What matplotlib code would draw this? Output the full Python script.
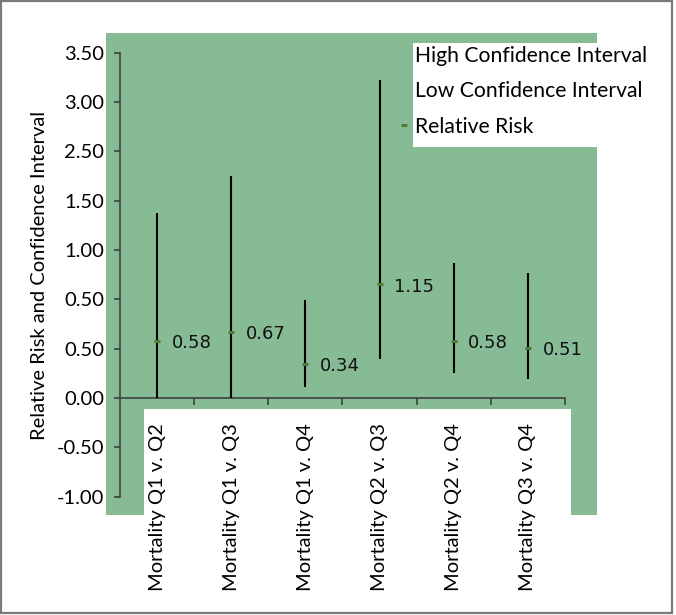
import matplotlib
matplotlib.use("Agg")
import matplotlib.pyplot as plt
from matplotlib.patches import Rectangle
from matplotlib.lines import Line2D

# ---- data ----
categories = ["Mortality Q1 v. Q2", "Mortality Q1 v. Q3", "Mortality Q1 v. Q4",
              "Mortality Q2 v. Q3", "Mortality Q2 v. Q4", "Mortality Q3 v. Q4"]
relative_risk = [0.58, 0.67, 0.34, 1.15, 0.58, 0.51]
high_ci = [1.87, 2.25, 0.99, 3.22, 1.37, 1.27]
low_ci = [0.00, 0.00, 0.11, 0.39, 0.25, 0.19]
rr_labels = ["0.58", "0.67", "0.34", "1.15", "0.58", "0.51"]
ytick_values = [-1.0, -0.5, 0.0, 0.5, 1.0, 1.5, 2.0, 2.5, 3.0, 3.5]
ytick_labels = ["-1.00", "-0.50", "0.00", "0.50", "0.50", "1.00", "1.50", "2.50", "3.00", "3.50"]
legend_labels = ["High Confidence Interval", "Low Confidence Interval", "Relative Risk"]
y_title = "Relative Risk and Confidence Interval"

W, H = 676, 615
MAIN_FONT = "Lato"
FS = 14.5
GREEN = "#87bb95"
AXIS_COLOR = "#3b413c"
RR_COLOR = "#4d7d36"

fig = plt.figure(figsize=(W / 100, H / 100), dpi=100)
fig.patch.set_facecolor("white")


def rect(x0, y0, x1, y1, **kw):
    r = Rectangle((x0 / W, 1 - y1 / H), (x1 - x0) / W, (y1 - y0) / H,
                  transform=fig.transFigure, **kw)
    fig.patches.append(r)
    return r


# background panels
rect(105.5, 33, 597, 515, facecolor=GREEN, edgecolor="none", zorder=-5)
rect(143.5, 409, 571, 612, facecolor="white", edgecolor="none", zorder=-4)
rect(413, 43, 670, 147, facecolor="white", edgecolor="none", zorder=-4)
# outer border
rect(1, 1, 672, 613, facecolor="none", edgecolor="#7a7a7a", linewidth=1.6, zorder=10)

ax = fig.add_axes([120 / W, 1 - 496.5 / H, (565 - 120) / W, (496.5 - 52.7) / H])
ax.set_facecolor("none")
x = list(range(len(categories)))

# high-low lines
ax.vlines(x, low_ci, high_ci, color="black", linewidth=1.5, zorder=3, clip_on=False)
ax.plot(x, high_ci, linestyle="none", label=legend_labels[0])
ax.plot(x, low_ci, linestyle="none", label=legend_labels[1])
ax.plot(x, relative_risk, linestyle="none", marker="_", markersize=4,
        markeredgewidth=2.2, color=RR_COLOR, zorder=4, label=legend_labels[2])

for xi, yi, lab in zip(x, relative_risk, rr_labels):
    ax.annotate(lab, (xi, yi), xytext=(10.5, -1.5), textcoords="offset points",
                ha="left", va="center", fontsize=13, family="DejaVu Sans",
                color="#111111")

ax.set_xlim(-0.5, len(categories) - 0.5)
ax.set_ylim(-1.0, 3.5)

for s in ["top", "right"]:
    ax.spines[s].set_visible(False)
ax.spines["bottom"].set_position(("data", 0))
for s in ["left", "bottom"]:
    ax.spines[s].set_color(AXIS_COLOR)
    ax.spines[s].set_linewidth(1.2)

ax.set_yticks(ytick_values)
ax.set_yticklabels(ytick_labels, family=MAIN_FONT, fontsize=FS)
ax.tick_params(axis="y", direction="out", length=4.5, width=1.2, color=AXIS_COLOR, pad=7)

ax.set_xticks([i + 0.5 for i in x])
ax.set_xticklabels([])
ax.tick_params(axis="x", which="major", direction="out", length=5, width=1.2, color=AXIS_COLOR)
ax.set_xticks(x, minor=True)
ax.set_xticklabels(categories, minor=True, rotation=90, family=MAIN_FONT, fontsize=FS)
ax.tick_params(axis="x", which="minor", length=0, pad=18)

fig.text(40 / W, 1 - 275 / H, y_title, rotation=90, ha="center", va="center",
         family=MAIN_FONT, fontsize=FS)

handles, labels = ax.get_legend_handles_labels()
leg = fig.legend(handles, labels, loc="upper left", bbox_to_anchor=(401 / W, 1 - 46 / H),
                 frameon=False, borderpad=0, borderaxespad=0, handlelength=0.3,
                 handletextpad=0.35, labelspacing=0.73,
                 prop={"family": MAIN_FONT, "size": 15.2})

fig.savefig("out.png", dpi=100, facecolor="white")
